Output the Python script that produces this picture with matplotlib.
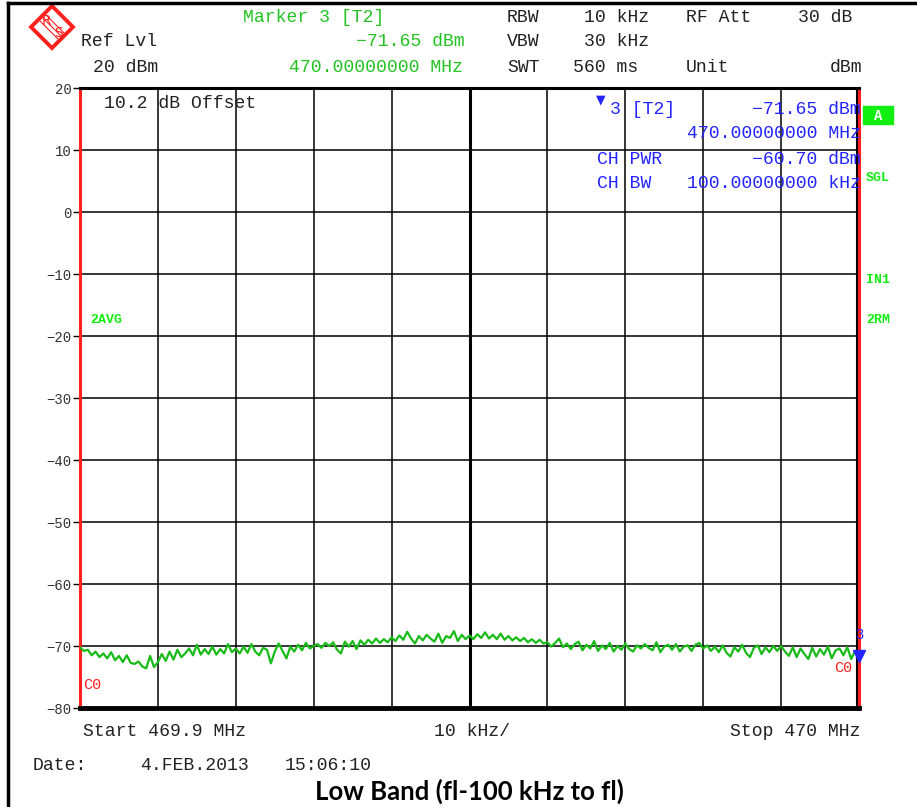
import numpy as np
import matplotlib.pyplot as plt
from matplotlib.patches import Polygon, Rectangle
from matplotlib.lines import Line2D

# ------------------------------------------------------------
# data (trace, 0.5 kHz steps from 469.9 MHz)
# ------------------------------------------------------------
freq_khz = np.arange(0, 100.5, 0.5)
trace_dbm = [
    # 0 - 10 kHz
    -70.2, -70.8, -70.6, -71.5, -70.9, -71.8, -71.2, -72.0, -71.0, -72.3,
    -71.6, -72.6, -71.5, -72.7, -72.9, -72.5, -73.3, -73.6, -71.6, -73.4,
    # 10 - 20
    -72.6, -71.3, -72.4, -70.9, -72.2, -70.6, -71.8, -71.2, -70.4, -71.5,
    -69.8, -71.4, -70.5, -71.3, -70.1, -71.4, -70.5, -71.2, -69.7, -71.0,
    # 20 - 30
    -70.4, -71.2, -70.1, -71.1, -69.7, -70.9, -71.5, -70.3, -70.6, -72.8,
    -70.9, -69.6, -70.8, -72.0, -70.1, -70.9, -69.8, -70.7, -69.5, -70.4,
    # 30 - 40
    -70.0, -69.7, -70.3, -69.5, -70.0, -69.4, -70.6, -71.2, -69.3, -70.1,
    -69.2, -70.5, -69.1, -69.8, -69.0, -69.6, -68.8, -69.5, -68.9, -69.4,
    # 40 - 50
    -68.6, -69.2, -68.3, -69.0, -67.7, -68.8, -69.6, -68.4, -69.1, -68.2,
    -68.8, -69.3, -68.0, -69.5, -68.4, -68.7, -67.6, -69.2, -68.2, -68.9,
    # 50 - 60
    -68.3, -68.9, -68.1, -68.7, -67.8, -68.8, -68.2, -68.9, -68.0, -69.0,
    -68.4, -69.1, -68.6, -69.2, -68.7, -69.4, -68.9, -69.5, -69.0, -69.6,
    # 60 - 70
    -69.4, -70.1, -69.5, -68.8, -70.2, -69.6, -70.5, -69.7, -69.3, -70.7,
    -69.8, -70.4, -69.2, -70.8, -69.9, -70.5, -69.5, -70.9, -70.0, -70.6,
    # 70 - 80
    -69.6, -70.5, -70.9, -69.9, -70.4, -69.7, -70.3, -70.7, -69.4, -71.0,
    -70.1, -69.8, -70.6, -69.7, -70.9, -70.1, -69.9, -70.8, -69.8, -69.5,
    # 80 - 90
    -70.4, -69.9, -70.8, -70.1, -71.0, -69.9, -71.1, -71.7, -70.2, -70.9,
    -69.8, -71.1, -71.8, -70.3, -69.9, -71.3, -70.2, -71.0, -70.0, -70.8,
    # 90 - 100
    -70.0, -70.9, -71.6, -70.2, -71.8, -70.4, -71.3, -72.1, -70.3, -71.7,
    -70.5, -71.4, -70.1, -72.0, -70.7, -70.4, -71.5, -70.2, -72.1, -70.8,
    -71.65,
]
y_ticks = [20, 10, 0, -10, -20, -30, -40, -50, -60, -70, -80]
marker_khz = 100.0
marker_dbm = -71.65

# ------------------------------------------------------------
# figure
# ------------------------------------------------------------
W, H = 917, 807
MONO = 'Liberation Mono'
GREEN = '#22c322'
LGREEN = '#11ee11'
BLUE = '#2424ff'
RED = '#ff2020'
FS = 13.1

fig = plt.figure(figsize=(W / 100, H / 100), dpi=100)


def px(x, y):
    return x / W, 1 - y / H


def txt(x, y, s, ha='left', color='#222222', size=FS, **kw):
    fig.text(*px(x, y), s, ha=ha, va='center', color=color,
             fontfamily=MONO, fontsize=size, **kw)


# outer frame
fig.add_artist(Line2D([8 / W, 8 / W], [0, 1 - 3 / H], color='black', lw=2.5,
                      transform=fig.transFigure))
fig.add_artist(Line2D([8 / W, 1], [1 - 3 / H, 1 - 3 / H], color='black', lw=2.5,
                      transform=fig.transFigure))

# plot area
x0, x1, y0, y1 = 80, 859, 88, 708
ax = fig.add_axes([x0 / W, 1 - y1 / H, (x1 - x0) / W, (y1 - y0) / H])
ax.set_xlim(0, 100)
ax.set_ylim(-80, 20)
for xv in range(10, 100, 10):
    ax.axvline(xv, color='black', lw=2.2 if xv == 50 else 1.1, zorder=1)
for yv in y_ticks[1:-1]:
    ax.axhline(yv, color='black', lw=1.1, zorder=1)
ax.plot(freq_khz, trace_dbm, color='#18bb18', lw=1.6, zorder=3)
ax.plot(marker_khz, marker_dbm, marker='v', color=BLUE, ms=8, clip_on=False, zorder=4)
ax.text(marker_khz, marker_dbm + 2.3, '3', color=BLUE, fontsize=10,
        fontfamily=MONO, ha='center', va='bottom', clip_on=False)

ax.set_xticks([])
ax.set_yticks(y_ticks)
ax.set_yticklabels([str(v).replace('-', '\u2212') for v in y_ticks],
                   fontfamily=MONO, fontsize=10, color='#333333')
ax.tick_params(axis='y', length=5, width=1, pad=1, color='black')
ax.spines['left'].set_color(RED)
ax.spines['left'].set_linewidth(2.2)
ax.spines['right'].set_color(RED)
ax.spines['right'].set_linewidth(2.2)
ax.spines['bottom'].set_linewidth(3.5)
ax.spines['top'].set_linewidth(2.2)
ax.axvline(99.75, color='black', lw=1.5, zorder=1)

# ------------------------------------------------------------
# header
# ------------------------------------------------------------
txt(243, 17, 'Marker 3 [T2]', color=GREEN)
txt(465, 42, '\u221271.65 dBm', ha='right', color=GREEN)
txt(463, 67, '470.00000000 MHz', ha='right', color=GREEN)
txt(81, 42, 'Ref Lvl')
txt(93, 67, '20 dBm')
txt(507, 17, 'RBW')
txt(507, 42, 'VBW')
txt(507, 67, 'SWT')
txt(649, 17, '10 kHz', ha='right')
txt(649, 42, '30 kHz', ha='right')
txt(638, 67, '560 ms', ha='right')
txt(686, 17, 'RF Att')
txt(686, 67, 'Unit')
txt(852, 17, '30 dB', ha='right')
txt(862, 67, 'dBm', ha='right')

# R&S logo
cx, cy, r = 52, 27, 21
logo = Polygon([px(cx - r, cy), px(cx, cy - r), px(cx + r, cy), px(cx, cy + r)],
               closed=True, fill=False, edgecolor=RED, lw=2.8,
               transform=fig.transFigure)
fig.add_artist(logo)
for off in (-3, 0, 3):
    fig.add_artist(Line2D([(cx - 9 + off) / W, (cx + 9 + off) / W],
                          [1 - (cy - 9 - off) / H, 1 - (cy + 9 - off) / H],
                          color=RED, lw=0.8, transform=fig.transFigure))
fig.text(*px(cx - 6, cy - 6), 'R', color=RED, fontsize=10, ha='center', va='center',
         fontfamily='DejaVu Sans')
fig.text(*px(cx + 6, cy + 6), 'S', color=RED, fontsize=10, ha='center', va='center',
         fontfamily='DejaVu Sans')

# ------------------------------------------------------------
# in-plot annotations
# ------------------------------------------------------------
txt(104, 104, '10.2 dB Offset')
fig.text(*px(601, 100), '\u25bc', color=BLUE, fontsize=9, ha='center', va='center',
         fontfamily='DejaVu Sans')
txt(610, 110, '3 [T2]', color=BLUE)
txt(861, 110, '\u221271.65 dBm', ha='right', color=BLUE)
txt(861, 134, '470.00000000 MHz', ha='right', color=BLUE)
txt(597, 159, 'CH PWR', color=BLUE)
txt(861, 159, '\u221260.70 dBm', ha='right', color=BLUE)
txt(597, 184, 'CH BW', color=BLUE)
txt(861, 184, '100.00000000 kHz', ha='right', color=BLUE)

txt(90, 320, '2AVG', color=LGREEN, size=9.5, fontweight='bold')
txt(83, 685, 'C0', color=RED, size=11)
txt(834, 668, 'C0', color=RED, size=11)

# right-hand status column
fig.add_artist(Rectangle(px(863, 124), 30 / W, 18 / H, color=LGREEN,
                         transform=fig.transFigure))
fig.text(*px(878, 116), 'A', color='white', fontsize=10, fontweight='bold',
         ha='center', va='center', fontfamily=MONO)
txt(866, 178, 'SGL', color=LGREEN, size=9.5, fontweight='bold')
txt(866, 280, 'IN1', color=LGREEN, size=9.5, fontweight='bold')
txt(866, 320, '2RM', color=LGREEN, size=9.5, fontweight='bold')

# ------------------------------------------------------------
# footer
# ------------------------------------------------------------
txt(83, 732, 'Start 469.9 MHz')
txt(472, 732, '10 kHz/', ha='center')
txt(860, 732, 'Stop 470 MHz', ha='right')
txt(33, 766, 'Date:')
txt(140, 766, '4.FEB.2013')
txt(285, 766, '15:06:10')
fig.text(*px(469, 791), 'Low Band (fl-100 kHz to fl)', ha='center', va='center',
         fontfamily='Lato', fontweight='bold', fontsize=18.5, color='black')

fig.savefig('out.png', dpi=100)
